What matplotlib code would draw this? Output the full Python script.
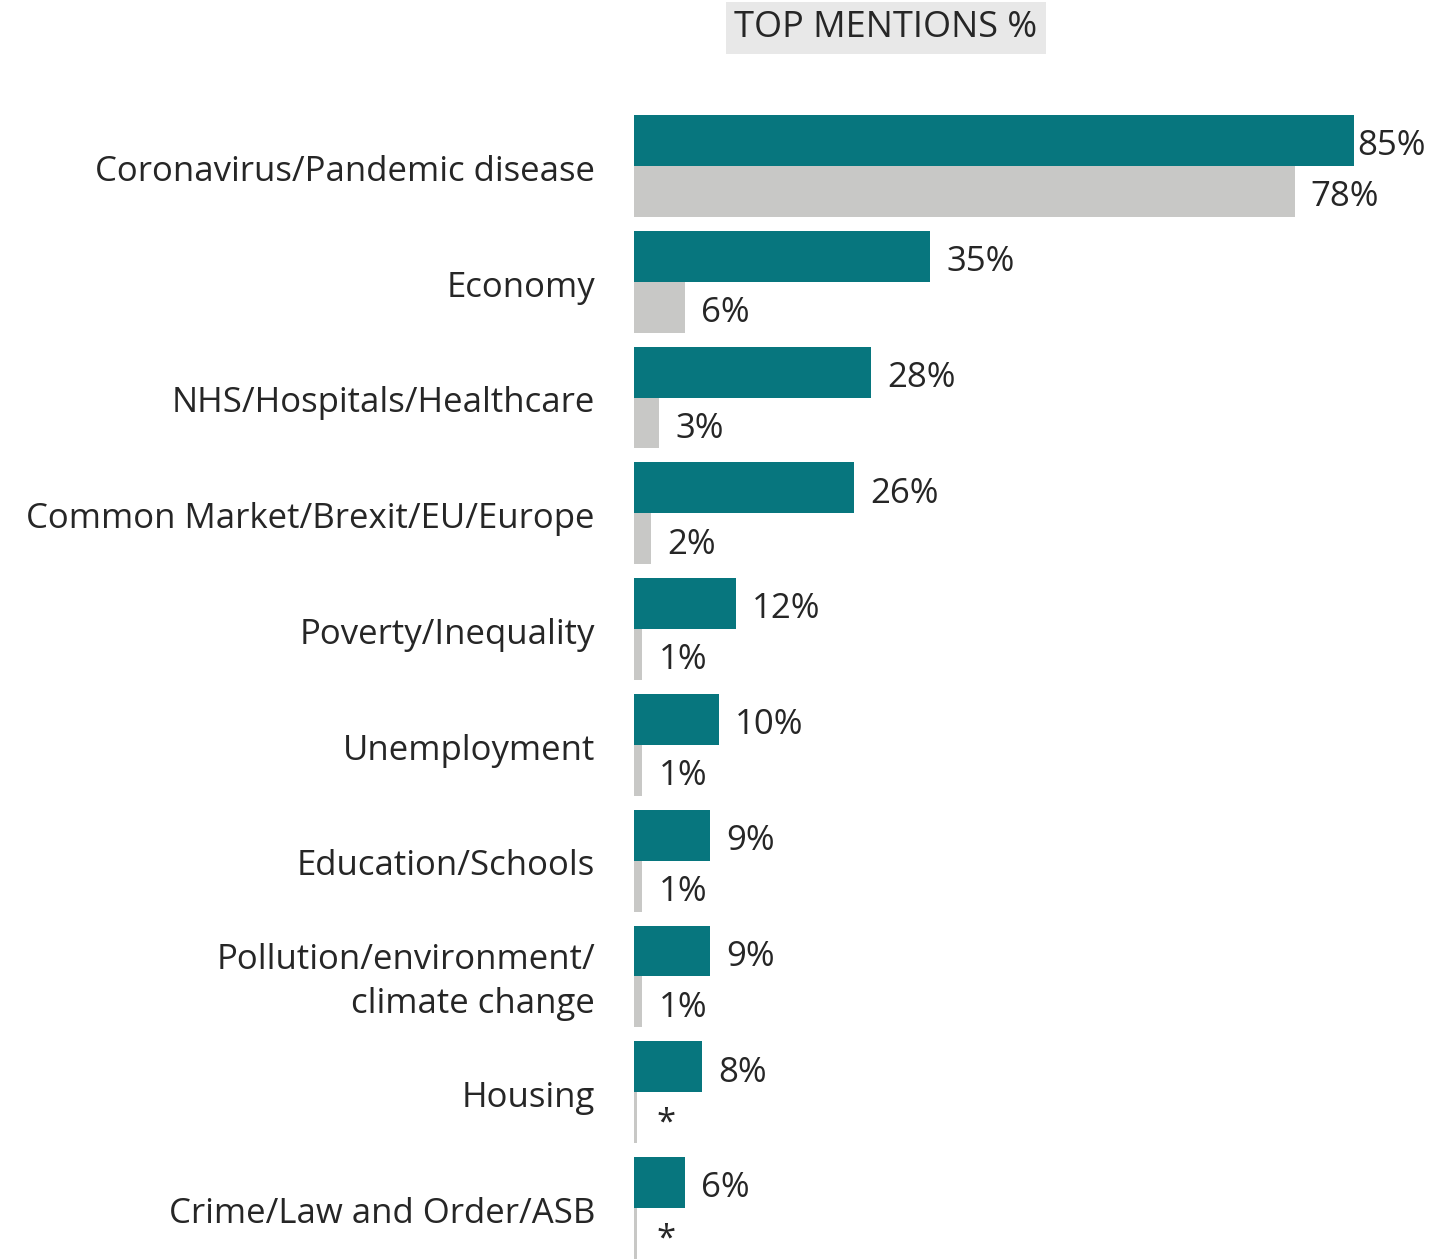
import matplotlib.pyplot as plt

plt.rcParams['font.family'] = ['Open Sans', 'DejaVu Sans']

categories = ['Coronavirus/Pandemic disease', 'Economy', 'NHS/Hospitals/Healthcare',
              'Common Market/Brexit/EU/Europe', 'Poverty/Inequality', 'Unemployment',
              'Education/Schools', 'Pollution/environment/\nclimate change', 'Housing',
              'Crime/Law and Order/ASB']
current = [85, 35, 28, 26, 12, 10, 9, 9, 8, 6]
previous = [78, 6, 3, 2, 1, 1, 1, 1, 0.4, 0.4]
current_labels = ['85%', '35%', '28%', '26%', '12%', '10%', '9%', '9%', '8%', '6%']
previous_labels = ['78%', '6%', '3%', '2%', '1%', '1%', '1%', '1%', '*', '*']

TEAL = '#07767e'
GREY = '#c8c8c6'
TXT = '#262626'
FS = 25

fig = plt.figure(figsize=(14.36, 12.59), dpi=100)
ax = fig.add_axes([634 / 1436, 0, 1 - 634 / 1436, 1 - 115 / 1259])

h = 0.44
ys = list(range(len(categories)))
ax.barh([y - h / 2 for y in ys], current, height=h, color=TEAL)
ax.barh([y + h / 2 for y in ys], previous, height=h, color=GREY)

# x scale: 85% spans 720 px
ax.set_xlim(0, 802 / 720 * 85)
ax.set_ylim(len(categories) - 1 + h, -h)

dy = 0.05  # nudge text down a little
off = 1.9
for y, v, lab in zip(ys, current, current_labels):
    x = v + off if v < 80 else v + 0.4
    ax.text(x, y - h / 2 + dy, lab, va='center', ha='left', fontsize=FS, color=TXT)
for y, v, lab in zip(ys, previous, previous_labels):
    x = v + off if lab != '*' else v + 2.3
    ax.text(x, y + h / 2 + dy, lab, va='center', ha='left', fontsize=FS, color=TXT)

for y, c in zip(ys, categories):
    ax.text(-39 / 720 * 85, y + dy, c, va='center', ha='right', fontsize=FS, color=TXT,
            multialignment='right', linespacing=1.4)

ax.axis('off')

fig.text(886 / 1436, 1 - 28 / 1259, 'TOP MENTIONS %', ha='center', va='center',
         fontsize=26, color=TXT,
         bbox=dict(boxstyle='square,pad=0.22', facecolor='#e8e8e8', edgecolor='none'))

fig.savefig('out.png', dpi=100)
